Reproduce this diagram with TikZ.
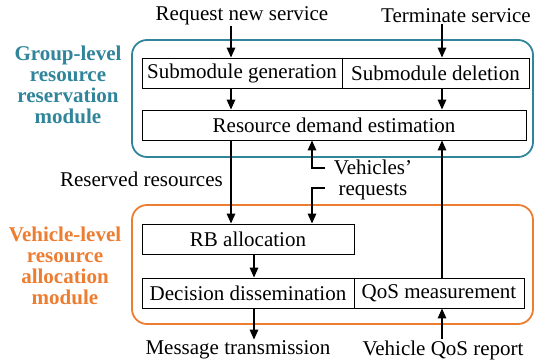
\documentclass[tikz,border=0pt]{standalone}
\usepackage{fontspec}
\setmainfont{LiberationSerif}[Extension=.ttf, UprightFont=*-Regular, BoldFont=*-Bold, ItalicFont=*-Italic, BoldItalicFont=*-BoldItalic, Ligatures=TeX]
\usetikzlibrary{arrows.meta}
\definecolor{teal1}{RGB}{49,133,155}
\definecolor{orng}{RGB}{237,125,49}
\begin{document}
\begin{tikzpicture}[x=1pt,y=-1pt,
  txt/.style={font=\rmfamily\fontsize{21}{21}\selectfont, inner sep=1pt},
  box/.style={txt, draw, line width=0.9pt, minimum height=30pt, inner sep=0pt},
  grp/.style={draw, rounded corners=15pt, line width=1.8pt},
  arr/.style={line width=1.6pt, -{Triangle[length=10pt,width=8.5pt]}},
  lbl/.style={font=\rmfamily\bfseries\fontsize{21}{21}\selectfont, align=center, inner sep=0pt}]
\useasboundingbox (0,0) rectangle (534,362);
% group rectangles
\draw[grp, teal1] (132,40) rectangle (533,157);
\draw[grp, orng] (132,205) rectangle (533,324);
% boxes
\node[box, minimum width=200pt] (gen) at (242,73) {Submodule generation};
\node[box, minimum width=187pt] (del) at (435.5,73) {Submodule deletion};
\node[box, minimum width=384pt] (rde) at (334,125) {Resource demand estimation};
\node[box, minimum width=212pt] (rb) at (248,239) {RB allocation};
\node[box, minimum width=212pt] (dd) at (248,293) {Decision dissemination};
\node[box, minimum width=170pt] (qos) at (439,293) {QoS measurement};
% labels
\node[lbl, text=teal1] (gl) at (68,85) {Group-level\\resource\\reservation\\module};
\node[lbl, text=orng] (vl) at (65,266) {Vehicle-level\\resource\\allocation\\module};
\node[txt] (req) at (242,16) {Request new service};
\node[txt] (term) at (456,16) {Terminate service};
\node[txt, anchor=east] (res) at (224,179) {Reserved resources};
\node[txt, align=center] (vr) at (373,180) {Vehicles’\\requests};
\node[txt] (msg) at (238,350) {Message transmission};
\node[txt] (vq) at (443,350) {Vehicle QoS report};
% column coordinates
\coordinate (c1) at (231,0);
\coordinate (c2) at (442,0);
\coordinate (c3) at (254,0);
\coordinate (c4) at (312,0);
\coordinate (h1) at (325,168);
\coordinate (h2) at (325,188);
% arrows
\draw[arr] (req.south -| c1) -- (gen.north -| c1);
\draw[arr] (term.south -| c2) -- (del.north -| c2);
\draw[arr] (gen.south -| c1) -- (rde.north -| c1);
\draw[arr] (del.south -| c2) -- (rde.north -| c2);
\draw[arr] (rde.south -| c1) -- (rb.north -| c1);
\draw[arr] (h1) -| (rde.south -| c4);
\draw[arr] (h2) -| (rb.north -| c4);
\draw[arr] (qos.north -| c2) -- (rde.south -| c2);
\draw[arr] (rb.south -| c3) -- (dd.north -| c3);
\draw[arr] (dd.south -| c3) -- (msg.north -| c3);
\draw[arr] (vq.north -| c2) -- (qos.south -| c2);
\end{tikzpicture}
\end{document}
